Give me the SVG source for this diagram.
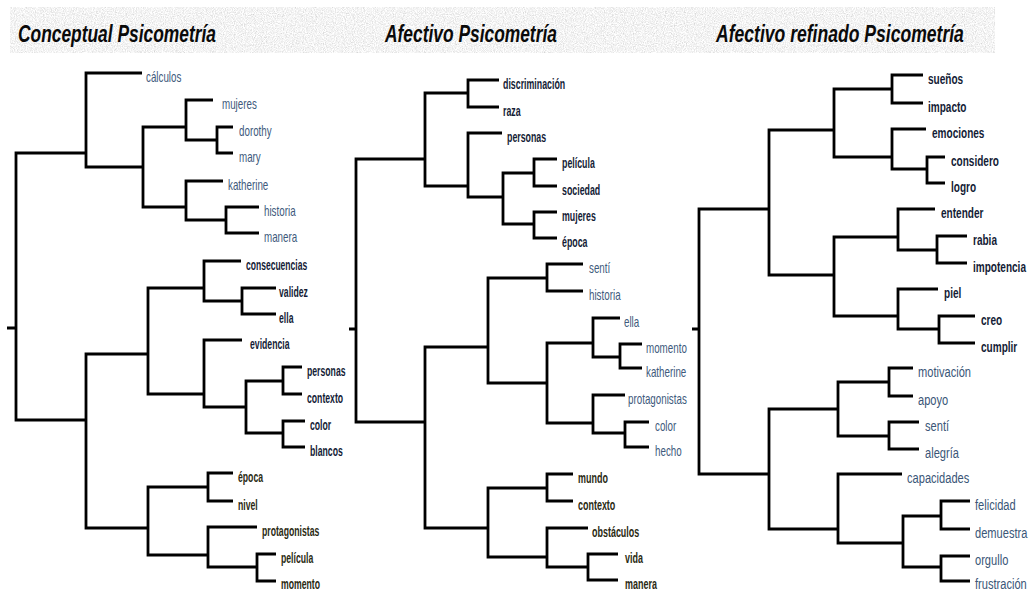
<svg xmlns="http://www.w3.org/2000/svg" width="1034" height="592" viewBox="0 0 1034 592">
<defs>
<filter id="grain" x="0" y="0" width="100%" height="100%">
<feTurbulence type="fractalNoise" baseFrequency="0.9" numOctaves="3" seed="4" result="n"/>
<feColorMatrix in="n" type="matrix" values="0.6 0 0 0 0.6  0.6 0 0 0 0.6  0.6 0 0 0 0.6  0 0 0 0 1" result="g"/>
<feComposite in="g" in2="SourceGraphic" operator="in"/>
</filter>
<style>
.ttl{font-family:"Liberation Sans",Arial,sans-serif;font-weight:700;font-style:italic;font-size:23px;fill:#0a0a0a}
.ln{fill:none;stroke:#000;stroke-width:2.8;stroke-linecap:butt;stroke-linejoin:miter}
text.l,text.b,text.o{font-family:"Liberation Sans",Arial,sans-serif;font-size:14px}
.l{fill:#3e5a7c;font-weight:400}
.b{fill:#141c36;font-weight:700}
.o{fill:#2a2a12;font-weight:700}
.t3 text.l,.t3 text.b{font-size:15px}
.t3 .l{fill:#3a5677}
</style>
</defs>
<rect width="1034" height="592" fill="#fff"/>
<g id="header">
<rect x="10" y="7" width="985" height="46" fill="#e8e8e8" filter="url(#grain)"/>
<text class="ttl" transform="translate(18 42) scale(.756 1)">Conceptual Psicometría</text>
<text class="ttl" transform="translate(385 42) scale(.756 1)">Afectivo Psicometría</text>
<text class="ttl" transform="translate(716 42) scale(.764 1)">Afectivo refinado Psicometría</text>
</g>
<g id="connectors" class="ln">
<path d="M7 328 H16 M86 153 H16 V420 H86"/>
<path d="M142 73 H86 V167 H143"/>
<path d="M186 127 H143 V207 H186"/>
<path d="M213 100 H186 V140 H217"/>
<path d="M233 127 H217 V153 H233"/>
<path d="M223 181 H186 V220 H226"/>
<path d="M259 207 H226 V233 H259"/>
<path d="M148 354 H86 V528 H148"/>
<path d="M204 288 H148 V394 H204"/>
<path d="M241 261 H204 V301 H242"/>
<path d="M276 288 H242 V314 H276"/>
<path d="M242 340 H204 V407 H246"/>
<path d="M283 381 H246 V433 H283"/>
<path d="M302 367 H283 V394 H302"/>
<path d="M305 421 H283 V447 H305"/>
<path d="M208 487 H148 V555 H208"/>
<path d="M233 473 H208 V501 H233"/>
<path d="M257 527 H208 V567 H257"/>
<path d="M276 554 H257 V581 H276"/>
<path d="M349 329 H356 M425 159 H356 V422 H425"/>
<path d="M468 93 H425 V186 H468"/>
<path d="M499 80 H468 V107 H499"/>
<path d="M502 133 H468 V197 H503"/>
<path d="M534 173 H503 V224 H534"/>
<path d="M557 159 H534 V186 H557"/>
<path d="M557 212 H534 V238 H557"/>
<path d="M488 347 H425 V528 H488"/>
<path d="M547 278 H488 V383 H547"/>
<path d="M583 264 H547 V291 H583"/>
<path d="M593 343 H547 V423 H593"/>
<path d="M620 318 H593 V357 H620"/>
<path d="M642 344 H620 V368 H642"/>
<path d="M625 395 H593 V433 H625"/>
<path d="M649 422 H625 V447 H649"/>
<path d="M547 488 H488 V557 H547"/>
<path d="M573 474 H547 V501 H573"/>
<path d="M588 528 H547 V567 H588"/>
<path d="M618 554 H588 V580 H618"/>
<path d="M692 329 H699 M769 209 H699 V474 H769"/>
<path d="M834 130 H769 V275 H834"/>
<path d="M892 89 H834 V157 H892"/>
<path d="M923 75 H892 V103 H923"/>
<path d="M926 129 H892 V169 H927"/>
<path d="M945 157 H927 V183 H945"/>
<path d="M898 237 H834 V316 H898"/>
<path d="M935 209 H898 V250 H937"/>
<path d="M967 236 H937 V263 H967"/>
<path d="M938 289 H898 V329 H939"/>
<path d="M975 316 H939 V343 H975"/>
<path d="M838 409 H769 V529 H838"/>
<path d="M889 382 H838 V436 H889"/>
<path d="M913 368 H889 V396 H913"/>
<path d="M919 422 H889 V449 H919"/>
<path d="M902 474 H838 V543 H903"/>
<path d="M941 516 H903 V567 H941"/>
<path d="M970 501 H941 V529 H970"/>
<path d="M970 556 H941 V581 H970"/>
</g>
<g id="tree1">
<g id="t1-calculos"><text class="l" transform="translate(146 81.5) scale(.7 1)">cálculos</text></g>
<g id="t1-mujeres"><text class="l" transform="translate(222 108.5) scale(.7 1)">mujeres</text></g>
<g id="t1-dorothy"><text class="l" transform="translate(239 135.5) scale(.7 1)">dorothy</text></g>
<g id="t1-mary"><text class="l" transform="translate(239 161.5) scale(.7 1)">mary</text></g>
<g id="t1-katherine"><text class="l" transform="translate(228 189.5) scale(.7 1)">katherine</text></g>
<g id="t1-historia"><text class="l" transform="translate(264 215.5) scale(.7 1)">historia</text></g>
<g id="t1-manera"><text class="l" transform="translate(264 241.5) scale(.7 1)">manera</text></g>
<g id="t1-consecuencias"><text class="b" transform="translate(246 269.5) scale(.61 1)">consecuencias</text></g>
<g id="t1-validez"><text class="b" transform="translate(279 296.5) scale(.62 1)">validez</text></g>
<g id="t1-ella"><text class="b" transform="translate(279 322.5) scale(.62 1)">ella</text></g>
<g id="t1-evidencia"><text class="b" transform="translate(250 348.5) scale(.62 1)">evidencia</text></g>
<g id="t1-personas"><text class="b" transform="translate(307 375.5) scale(.62 1)">personas</text></g>
<g id="t1-contexto"><text class="b" transform="translate(307 402.5) scale(.62 1)">contexto</text></g>
<g id="t1-color"><text class="b" transform="translate(310 429.5) scale(.62 1)">color</text></g>
<g id="t1-blancos"><text class="b" transform="translate(310 455.5) scale(.62 1)">blancos</text></g>
<g id="t1-epoca"><text class="o" transform="translate(238 481.5) scale(.62 1)">época</text></g>
<g id="t1-nivel"><text class="o" transform="translate(238 509.5) scale(.62 1)">nivel</text></g>
<g id="t1-protagonistas"><text class="o" transform="translate(262 535.5) scale(.62 1)">protagonistas</text></g>
<g id="t1-pelicula"><text class="o" transform="translate(281 562.5) scale(.62 1)">película</text></g>
<g id="t1-momento"><text class="o" transform="translate(281 589) scale(.62 1)">momento</text></g>
</g>
<g id="tree2">
<g id="t2-discriminacion"><text class="b" transform="translate(503 88.5) scale(.63 1)">discriminación</text></g>
<g id="t2-raza"><text class="b" transform="translate(503 115.5) scale(.63 1)">raza</text></g>
<g id="t2-personas"><text class="b" transform="translate(507 141.5) scale(.63 1)">personas</text></g>
<g id="t2-pelicula"><text class="b" transform="translate(562 167.5) scale(.63 1)">película</text></g>
<g id="t2-sociedad"><text class="b" transform="translate(562 194.5) scale(.63 1)">sociedad</text></g>
<g id="t2-mujeres"><text class="b" transform="translate(562 220.5) scale(.63 1)">mujeres</text></g>
<g id="t2-epoca"><text class="b" transform="translate(562 246.5) scale(.63 1)">época</text></g>
<g id="t2-senti"><text class="l" transform="translate(589 272.5) scale(.7 1)">sentí</text></g>
<g id="t2-historia"><text class="l" transform="translate(589 299.5) scale(.7 1)">historia</text></g>
<g id="t2-ella"><text class="l" transform="translate(624 326.5) scale(.7 1)">ella</text></g>
<g id="t2-momento"><text class="l" transform="translate(646 352.5) scale(.7 1)">momento</text></g>
<g id="t2-katherine"><text class="l" transform="translate(646 376.5) scale(.7 1)">katherine</text></g>
<g id="t2-protagonistas"><text class="l" transform="translate(628 403.5) scale(.7 1)">protagonistas</text></g>
<g id="t2-color"><text class="l" transform="translate(655 430.5) scale(.7 1)">color</text></g>
<g id="t2-hecho"><text class="l" transform="translate(655 455.5) scale(.7 1)">hecho</text></g>
<g id="t2-mundo"><text class="o" transform="translate(578 482.5) scale(.64 1)">mundo</text></g>
<g id="t2-contexto"><text class="o" transform="translate(578 509.5) scale(.64 1)">contexto</text></g>
<g id="t2-obstaculos"><text class="o" transform="translate(592 536.5) scale(.64 1)">obstáculos</text></g>
<g id="t2-vida"><text class="o" transform="translate(625 562.5) scale(.64 1)">vida</text></g>
<g id="t2-manera"><text class="o" transform="translate(625 588.5) scale(.64 1)">manera</text></g>
</g>
<g id="tree3" class="t3">
<g id="t3-suenos"><text class="b" transform="translate(928 84) scale(.67 1)">sueños</text></g>
<g id="t3-impacto"><text class="b" transform="translate(928 112) scale(.67 1)">impacto</text></g>
<g id="t3-emociones"><text class="b" transform="translate(932 138) scale(.67 1)">emociones</text></g>
<g id="t3-considero"><text class="b" transform="translate(951 166) scale(.67 1)">considero</text></g>
<g id="t3-logro"><text class="b" transform="translate(951 192) scale(.67 1)">logro</text></g>
<g id="t3-entender"><text class="b" transform="translate(941 218) scale(.67 1)">entender</text></g>
<g id="t3-rabia"><text class="b" transform="translate(973 245) scale(.67 1)">rabia</text></g>
<g id="t3-impotencia"><text class="b" transform="translate(973 272) scale(.67 1)">impotencia</text></g>
<g id="t3-piel"><text class="b" transform="translate(944 298) scale(.67 1)">piel</text></g>
<g id="t3-creo"><text class="b" transform="translate(981 325) scale(.67 1)">creo</text></g>
<g id="t3-cumplir"><text class="b" transform="translate(981 352) scale(.67 1)">cumplir</text></g>
<g id="t3-motivacion"><text class="l" transform="translate(918 377) scale(.74 1)">motivación</text></g>
<g id="t3-apoyo"><text class="l" transform="translate(918 405) scale(.74 1)">apoyo</text></g>
<g id="t3-senti"><text class="l" transform="translate(925 431) scale(.74 1)">sentí</text></g>
<g id="t3-alegria"><text class="l" transform="translate(925 458) scale(.74 1)">alegría</text></g>
<g id="t3-capacidades"><text class="l" transform="translate(907 483) scale(.74 1)">capacidades</text></g>
<g id="t3-felicidad"><text class="l" transform="translate(975 510) scale(.74 1)">felicidad</text></g>
<g id="t3-demuestra"><text class="l" transform="translate(975 538) scale(.74 1)">demuestra</text></g>
<g id="t3-orgullo"><text class="l" transform="translate(975 565) scale(.74 1)">orgullo</text></g>
<g id="t3-frustracion"><text class="l" transform="translate(975 589) scale(.74 1)">frustración</text></g>
</g>
</svg>
